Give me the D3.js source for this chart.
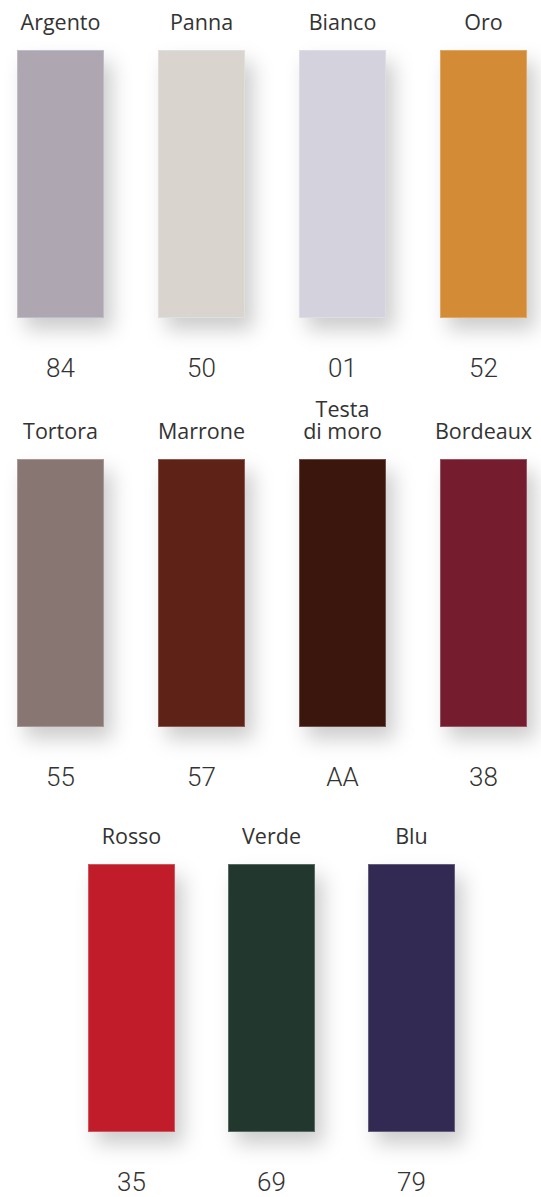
<!DOCTYPE html>
<html>
<head>
<meta charset="utf-8">
<script src="https://cdn.jsdelivr.net/npm/d3@7"></script>
<style>
  html, body { margin: 0; padding: 0; background: #fff; }
  svg { display: block; }
</style>
</head>
<body>
<script>
// ---- data ----
const names = ["Argento", "Panna", "Bianco", "Oro",
               "Tortora", "Marrone", "Testa\ndi moro", "Bordeaux",
               "Rosso", "Verde", "Blu"];
const codes = ["84", "50", "01", "52", "55", "57", "AA", "38", "35", "69", "79"];
const colors = ["#aea7b2", "#d9d4ce", "#d3d2dd", "#d48b36",
                "#877672", "#5f2117", "#3b120b", "#751c2f",
                "#c11a29", "#23392d", "#302a53"];
const rowOf = [0, 0, 0, 0, 1, 1, 1, 1, 2, 2, 2];
const colOf = [0, 1, 2, 3, 0, 1, 2, 3, 0, 1, 2];

const W = 541, H = 1197;
const svg = d3.select("body").append("svg").attr("width", W).attr("height", H);

const defs = svg.append("defs");
const f = defs.append("filter").attr("id", "sh")
  .attr("x", "-30%").attr("y", "-20%").attr("width", "180%").attr("height", "150%");
f.append("feDropShadow").attr("dx", 8).attr("dy", 12).attr("stdDeviation", 10)
  .attr("flood-color", "#000").attr("flood-opacity", 0.2);

// layout scales
const rowTop = d3.scaleOrdinal().domain([0, 1, 2]).range([50, 459, 864]);
const rowStart = d3.scaleOrdinal().domain([0, 1, 2]).range([17, 17, 88]);
const rowStep = d3.scaleOrdinal().domain([0, 1, 2]).range([141, 141, 140]);
const swW = 87, swH = 268;

const items = names.map((n, i) => ({
  name: n, code: codes[i], color: colors[i], row: rowOf[i], col: colOf[i]
}));
const xOf = d => rowStart(d.row) + d.col * rowStep(d.row);

const g = svg.selectAll("g.sw").data(items).join("g").attr("class", "sw");

g.append("rect")
  .attr("x", d => xOf(d))
  .attr("y", d => rowTop(d.row))
  .attr("width", swW)
  .attr("height", swH)
  .attr("fill", d => d.color)
  .attr("filter", "url(#sh)");

g.append("rect")
  .attr("x", d => xOf(d) + 0.5)
  .attr("y", d => rowTop(d.row) + 0.5)
  .attr("width", swW - 1)
  .attr("height", swH - 1)
  .attr("fill", "none")
  .attr("stroke", "rgba(255,255,255,0.25)")
  .attr("stroke-width", 1);

// labels
g.each(function(d) {
  const lines = d.name.split("\n");
  const t = d3.select(this).append("text")
    .attr("x", xOf(d) + swW / 2)
    .attr("text-anchor", "middle")
    .attr("font-family", "'Open Sans', sans-serif")
    .attr("font-size", 21.5)
    .attr("fill", "#333");
  const base = rowTop(d.row) - 20;
  lines.forEach((l, k) => {
    t.append("tspan")
      .attr("x", xOf(d) + swW / 2)
      .attr("y", base - (lines.length - 1 - k) * 22)
      .text(l);
  });
});

// codes
g.append("text")
  .attr("x", d => xOf(d) + swW / 2)
  .attr("y", d => rowTop(d.row) + swH + 59)
  .attr("text-anchor", "middle")
  .attr("font-family", "Roboto, sans-serif")
  .attr("font-weight", 300)
  .attr("font-size", 26)
  .attr("fill", "#333")
  .text(d => d.code);
</script>
</body>
</html>
